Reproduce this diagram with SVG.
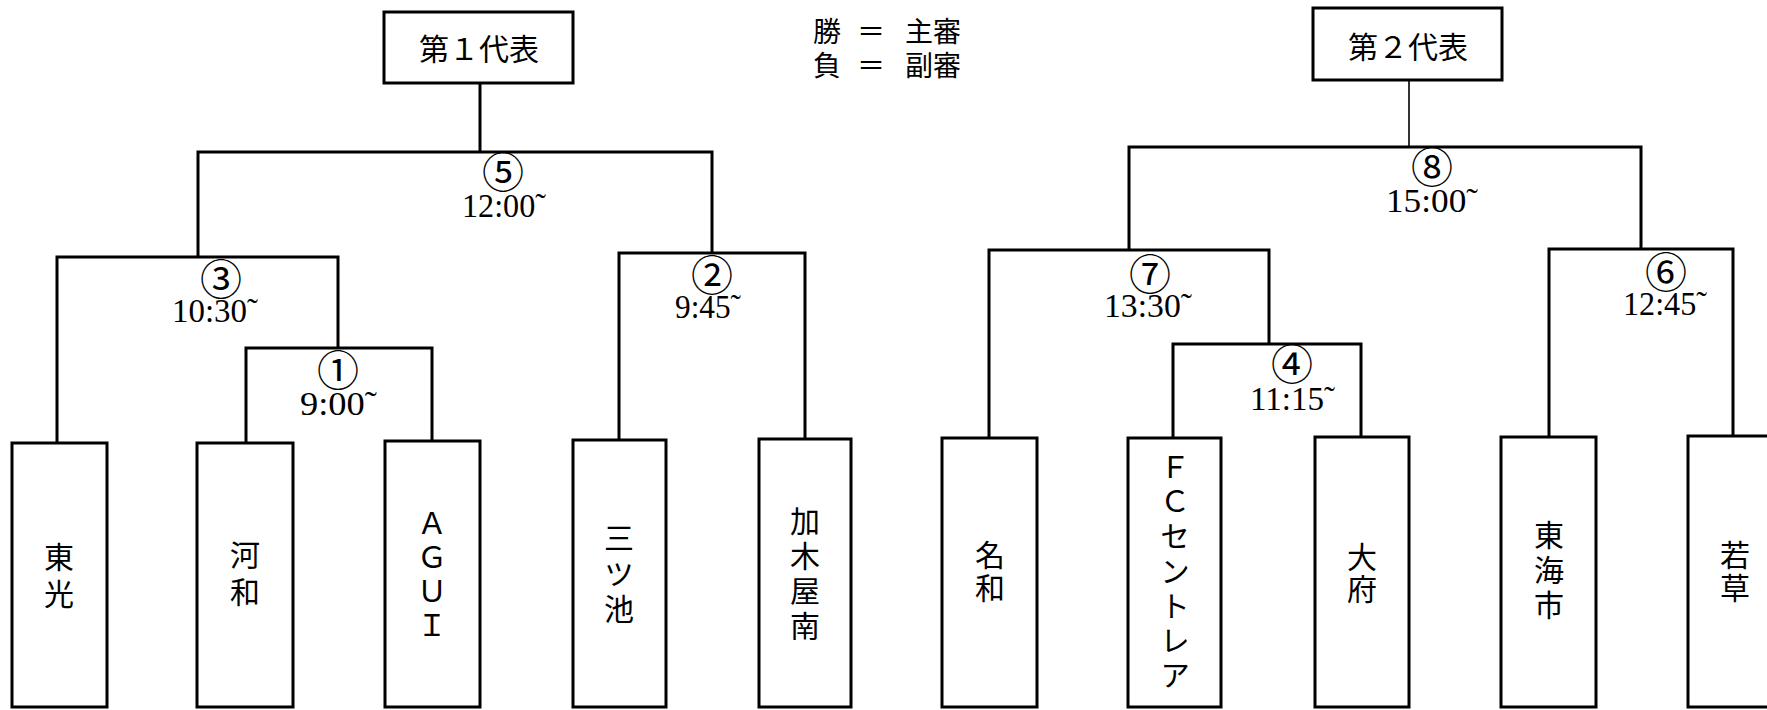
<svg xmlns="http://www.w3.org/2000/svg" width="1767" height="710" viewBox="0 0 1767 710">
<style>
.bg{fill:#fff}
.box{fill:#fff;stroke:#000;stroke-width:3}
.con{fill:none;stroke:#000;stroke-width:3}
.thin{fill:none;stroke:#000;stroke-width:1.6}
.jp{font-family:"Noto Sans CJK JP","Noto Sans CJK SC",sans-serif;font-size:30px;fill:#000;text-anchor:middle;dominant-baseline:central}
.vt{font-family:"Noto Sans CJK JP","Noto Sans CJK SC",sans-serif;font-size:30px;fill:#000;text-anchor:middle;writing-mode:vertical-rl;text-orientation:upright}
.leg{font-family:"Noto Sans CJK JP","Noto Sans CJK SC",sans-serif;font-size:28px;fill:#000;dominant-baseline:central}
.num{font-family:"Noto Sans CJK JP","Noto Sans CJK SC",sans-serif;font-size:42px;fill:#000;text-anchor:middle;dominant-baseline:central}
.time{font-family:"Liberation Serif",serif;font-size:34px;fill:#000}
</style>
<rect class="bg" x="0" y="0" width="1767" height="710"/>

<g id="connectors">
<path class="con" d="M480 83 V152"/>
<path class="con" d="M198 257 V152 H712 V253"/>
<path class="con" d="M57 443 V257 H338 V348"/>
<path class="con" d="M246 443 V348 H432 V441"/>
<path class="con" d="M619 440 V253 H805 V439"/>
<path class="thin" d="M1409 80 V147"/>
<path class="con" d="M1129 250 V147 H1641 V249"/>
<path class="con" d="M989 438 V250 H1269 V344"/>
<path class="con" d="M1173 438 V344 H1361 V437"/>
<path class="con" d="M1549 437 V249 H1733 V436"/>
</g>

<g id="legend">
<text class="leg" x="827" y="30" text-anchor="middle">勝</text>
<text class="leg" x="871" y="30" text-anchor="middle">＝</text>
<text class="leg" x="905" y="30">主審</text>
<text class="leg" x="827" y="64" text-anchor="middle">負</text>
<text class="leg" x="871" y="64" text-anchor="middle">＝</text>
<text class="leg" x="905" y="64">副審</text>
</g>

<g id="rep1">
<rect class="box" x="384" y="12" width="189" height="71"/>
<text class="jp" x="479" y="47">第１代表</text>
</g>
<g id="rep2">
<rect class="box" x="1313" y="8" width="189" height="72"/>
<text class="jp" x="1408" y="45">第２代表</text>
</g>

<g id="m5"><text class="num" x="503" y="169">⑤</text><text class="time" x="462" y="217" textLength="84" lengthAdjust="spacingAndGlyphs">12:00˜</text></g>
<g id="m3"><text class="num" x="221" y="276">③</text><text class="time" x="172" y="322" textLength="86" lengthAdjust="spacingAndGlyphs">10:30˜</text></g>
<g id="m2"><text class="num" x="712" y="272">②</text><text class="time" x="675" y="318" textLength="66" lengthAdjust="spacingAndGlyphs">9:45˜</text></g>
<g id="m1"><text class="num" x="338" y="367">①</text><text class="time" x="300" y="415" textLength="77" lengthAdjust="spacingAndGlyphs">9:00˜</text></g>
<g id="m8"><text class="num" x="1432" y="164">⑧</text><text class="time" x="1386" y="212" textLength="92" lengthAdjust="spacingAndGlyphs">15:00˜</text></g>
<g id="m7"><text class="num" x="1150" y="271">⑦</text><text class="time" x="1104" y="317" textLength="88" lengthAdjust="spacingAndGlyphs">13:30˜</text></g>
<g id="m6"><text class="num" x="1666" y="269">⑥</text><text class="time" x="1623" y="315" textLength="84" lengthAdjust="spacingAndGlyphs">12:45˜</text></g>
<g id="m4"><text class="num" x="1292" y="361">④</text><text class="time" x="1250" y="410" textLength="85" lengthAdjust="spacingAndGlyphs">11:15˜</text></g>

<g id="team-toko">
<rect class="box" x="12" y="443" width="95" height="264"/>
<text class="vt" x="59" y="579" letter-spacing="7">東光</text>
</g>
<g id="team-kowa">
<rect class="box" x="197" y="443" width="96" height="264"/>
<text class="vt" x="245" y="577" letter-spacing="7">河和</text>
</g>
<g id="team-agui">
<rect class="box" x="385" y="441" width="95" height="266"/>
<text class="vt" x="432" y="576" letter-spacing="4">ＡＧＵＩ</text>
</g>
<g id="team-mitsuike">
<rect class="box" x="573" y="440" width="93" height="267"/>
<text class="vt" x="619" y="576" letter-spacing="5.5">三ツ池</text>
</g>
<g id="team-kagiyaminami">
<rect class="box" x="759" y="439" width="92" height="268"/>
<text class="vt" x="805" y="576" letter-spacing="5">加木屋南</text>
</g>
<g id="team-nawa">
<rect class="box" x="942" y="438" width="95" height="269"/>
<text class="vt" x="990" y="573" letter-spacing="3">名和</text>
</g>
<g id="team-fc">
<rect class="box" x="1128" y="438" width="93" height="269"/>
<text class="vt" x="1175" y="573" letter-spacing="4.7">ＦＣセントレア</text>
</g>
<g id="team-obu">
<rect class="box" x="1315" y="437" width="94" height="270"/>
<text class="vt" x="1362" y="574" letter-spacing="2">大府</text>
</g>
<g id="team-tokai">
<rect class="box" x="1501" y="437" width="95" height="270"/>
<text class="vt" x="1549" y="572" letter-spacing="5">東海市</text>
</g>
<g id="team-wakakusa">
<rect class="box" x="1688" y="436" width="95" height="271"/>
<text class="vt" x="1735" y="573" letter-spacing="3">若草</text>
</g>
</svg>
